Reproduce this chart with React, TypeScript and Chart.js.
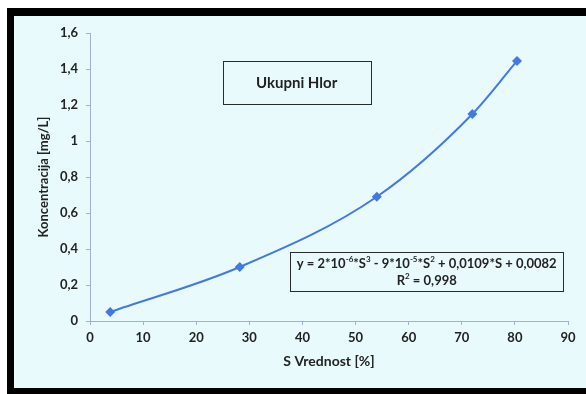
import React, { useEffect, useRef } from "react";
import { Chart, registerables } from "chart.js";

Chart.register(...registerables);

const sValues = [3.8, 28.2, 54, 72, 80.4];
const concentrations = [0.05, 0.3, 0.69, 1.15, 1.445];
const xTickValues = [0, 10, 20, 30, 40, 50, 60, 70, 80, 90];
const yTickValues = [0, 0.2, 0.4, 0.6, 0.8, 1, 1.2, 1.4, 1.6];
const chartTitle = "Ukupni Hlor";
const xAxisTitle = "S Vrednost [%]";
const yAxisTitle = "Koncentracija [mg/L]";
const equationLine1 = [
  { t: "y = 2*10", sup: false },
  { t: "-6", sup: true },
  { t: "*S", sup: false },
  { t: "3", sup: true },
  { t: " - 9*10", sup: false },
  { t: "-5", sup: true },
  { t: "*S", sup: false },
  { t: "2", sup: true },
  { t: " + 0,0109*S + 0,0082", sup: false },
];
const equationLine2 = [
  { t: "R", sup: false },
  { t: "2", sup: true },
  { t: " = 0,998", sup: false },
];

const FONT = "Lato, 'Open Sans', sans-serif";
const TEXT = "#222222";
const AXIS = "#a3b0d0";
const BLUE = "#4379e3";

const fmt = (v: number) => String(Number(v.toFixed(1))).replace(".", ",");

function drawSegments(ctx: CanvasRenderingContext2D, segs: { t: string; sup: boolean }[], cx: number, cy: number, size: number) {
  const main = `bold ${size}px ${FONT}`;
  const small = `bold ${Math.round(size * 0.62)}px ${FONT}`;
  let total = 0;
  const widths = segs.map((s) => {
    ctx.font = s.sup ? small : main;
    const w = ctx.measureText(s.t).width;
    total += w;
    return w;
  });
  let x = cx - total / 2;
  ctx.textBaseline = "middle";
  ctx.textAlign = "left";
  segs.forEach((s, i) => {
    ctx.font = s.sup ? small : main;
    ctx.fillText(s.t, x, s.sup ? cy - size * 0.32 : cy);
    x += widths[i];
  });
}

const annotationPlugin = {
  id: "annotations",
  afterDraw(chart: any) {
    const { ctx, scales } = chart;
    const xs = scales.x;
    const ys = scales.y;
    ctx.save();
    const tcx = xs.getPixelForValue(38.9);
    const tcy = ys.getPixelForValue(1.32);
    ctx.strokeStyle = "#2b2b2b";
    ctx.lineWidth = 1;
    ctx.strokeRect(Math.round(tcx - 74) + 0.5, Math.round(tcy - 22) + 0.5, 148, 43);
    ctx.fillStyle = TEXT;
    ctx.font = `bold 15px ${FONT}`;
    ctx.textAlign = "center";
    ctx.textBaseline = "middle";
    ctx.fillText(chartTitle, tcx, tcy);
    const ecx = xs.getPixelForValue(63.4);
    const ecy = ys.getPixelForValue(0.274);
    ctx.strokeRect(Math.round(ecx - 137) + 0.5, Math.round(ecy - 20) + 0.5, 273, 39);
    ctx.fillStyle = TEXT;
    drawSegments(ctx, equationLine1, ecx, ecy - 8, 13);
    drawSegments(ctx, equationLine2, ecx, ecy + 9, 13);
    ctx.restore();
  },
};

export default function App() {
  const ref = useRef<HTMLCanvasElement>(null);
  useEffect(() => {
    if (!ref.current) return;
    const chart = new Chart(ref.current, {
      type: "line",
      data: {
        datasets: [
          {
            data: sValues.map((s, i) => ({ x: s, y: concentrations[i] })),
            borderColor: BLUE,
            backgroundColor: BLUE,
            borderWidth: 2,
            pointStyle: "rectRot",
            pointRadius: 5,
            pointBorderWidth: 0,
            cubicInterpolationMode: "monotone",
            fill: false,
          },
        ],
      },
      options: {
        animation: false,
        responsive: false,
        devicePixelRatio: 1,
        layout: { padding: { left: 0, top: 33, right: 18, bottom: 0 } },
        plugins: { legend: { display: false }, tooltip: { enabled: false } },
        scales: {
          x: {
            type: "linear",
            min: 0,
            max: 90,
            afterFit: (s: any) => {
              s.height = 73;
            },
            afterBuildTicks: (s: any) => {
              s.ticks = xTickValues.map((v) => ({ value: v }));
            },
            ticks: {
              color: TEXT,
              font: { family: FONT, size: 13, weight: "bold" },
              padding: 5,
              maxRotation: 0,
              callback: (v: any) => fmt(Number(v)),
            },
            grid: { drawOnChartArea: false, drawTicks: true, tickLength: 4, color: AXIS },
            border: { display: true, color: AXIS },
            title: {
              display: true,
              text: xAxisTitle,
              color: TEXT,
              font: { family: FONT, size: 14, weight: "bold" },
              padding: { top: 0, bottom: 24 },
            },
          },
          y: {
            type: "linear",
            min: 0,
            max: 1.6,
            afterFit: (s: any) => {
              s.width = 90;
            },
            afterBuildTicks: (s: any) => {
              s.ticks = yTickValues.map((v) => ({ value: v }));
            },
            ticks: {
              color: TEXT,
              font: { family: FONT, size: 13, weight: "bold" },
              padding: 8,
              callback: (v: any) => fmt(Number(v)),
            },
            grid: { drawOnChartArea: false, drawTicks: true, tickLength: 4, color: AXIS },
            border: { display: true, color: AXIS },
            title: {
              display: true,
              text: yAxisTitle,
              color: TEXT,
              font: { family: FONT, size: 13, weight: "bold" },
              padding: { top: 36, bottom: 0 },
            },
          },
        },
      },
      plugins: [annotationPlugin],
    } as any);
    return () => chart.destroy();
  }, []);

  return (
    <div style={{ position: "fixed", left: 0, top: 0, width: 586, height: 394, background: "#ffffff", overflow: "hidden" }}>
      <div style={{ position: "absolute", left: 7, top: 8, width: 579, height: 386, background: "#000000" }} />
      <div style={{ position: "absolute", left: 14, top: 16, width: 572, height: 372, background: "#e9fafd" }} />
      <canvas ref={ref} width={586} height={394} style={{ position: "absolute", left: 0, top: 0, width: 586, height: 394 }} />
    </div>
  );
}
